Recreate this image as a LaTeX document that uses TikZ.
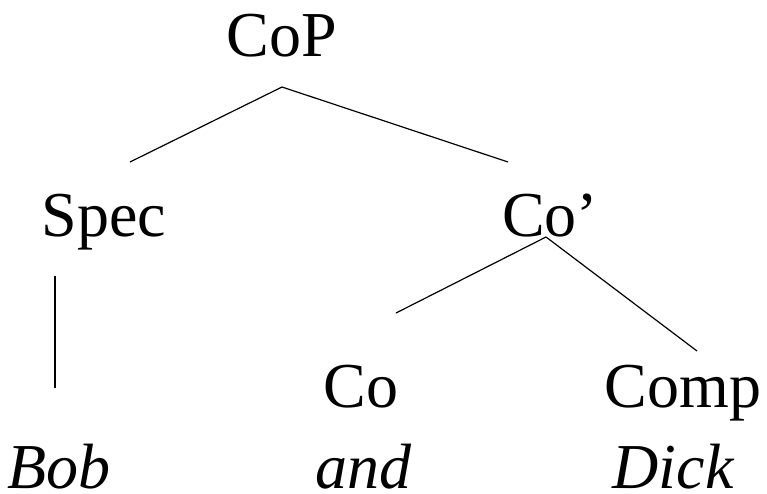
\documentclass[tikz,border=0pt]{standalone}
\usepackage{fontspec}
\setmainfont{Liberation Serif}
\begin{document}
\begin{tikzpicture}[x=1pt,y=-1pt,
  lbl/.style={anchor=base,inner sep=0pt,font=\fontsize{64}{76}\selectfont},
  word/.style={lbl,text depth=0pt,font=\fontsize{64}{76}\selectfont\itshape},
  edge/.style={line width=1.2pt}]
\useasboundingbox (0,0) rectangle (767,493);
\node[lbl] (CoP) at (282,56) {CoP};
\node[lbl] (Spec) at (104,236) {Spec};
\node[lbl] (Cob) at (550,236) {Co’};
\node[lbl] (Co) at (361,407) {Co};
\node[lbl] (Comp) at (683,407) {Comp};
\node[word] (Bob) at (59,488) {Bob};
\node[word] (and) at (363,488) {and};
\node[word] (Dick) at (673,488) {Dick};
\draw[edge] ([yshift=-31pt]CoP.base) -- ([shift={(26pt,74pt)}]Spec.base);
\draw[edge] ([yshift=-31pt]CoP.base) -- ([shift={(-42pt,74pt)}]Cob.base);
\draw[edge] ([shift={(-49pt,-40pt)}]Spec.base) -- ([shift={(-4pt,100pt)}]Bob.base);
\draw[edge] ([shift={(-4pt,-1pt)}]Cob.base) -- ([shift={(35pt,94pt)}]Co.base);
\draw[edge] ([shift={(-4pt,-1pt)}]Cob.base) -- ([shift={(14pt,56pt)}]Comp.base);
\end{tikzpicture}
\end{document}
